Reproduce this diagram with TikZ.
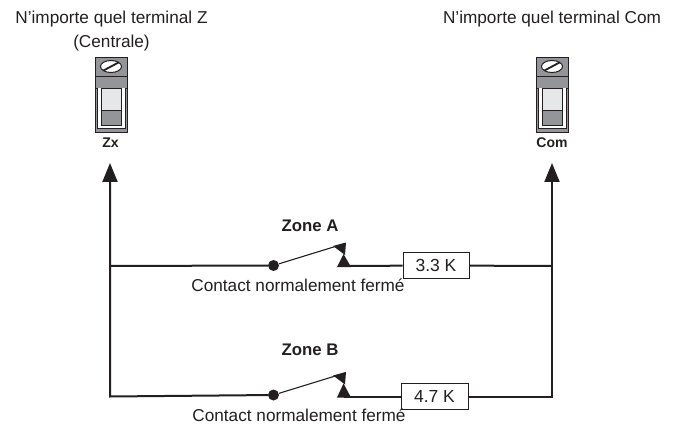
\documentclass[tikz,border=0pt]{standalone}
\usepackage{fontspec}
\setmainfont{Liberation Sans}
\usetikzlibrary{arrows.meta}
\definecolor{ink}{HTML}{231F20}
\definecolor{tgray}{HTML}{939598}
\definecolor{tlight}{HTML}{E6E7E8}
\tikzset{
 wire/.style={draw=ink,line width=2pt,line join=miter},
 arm/.style={draw=ink,line width=1.1pt},
 lbl/.style={font=\fontsize{17.2}{24.5}\selectfont,text=ink,inner sep=0pt,align=center},
 blbl/.style={font=\fontsize{16.8}{20}\selectfont\bfseries,text=ink,inner sep=0pt},
 term/.style={font=\fontsize{14}{16}\selectfont\bfseries,text=ink,inner sep=0pt},
 res/.style={draw=ink,line width=0.9pt,fill=white,minimum height=26pt,inner sep=0pt,font=\fontsize{17.5}{19}\selectfont,text=ink},
 dotn/.style={circle,fill=ink,minimum size=11pt,inner sep=0pt},
 arrowtip/.style={-{Triangle[length=19pt,width=15pt]}},
 terminal/.pic={
  \fill[tgray] (-16,-37.5) rectangle (16,37.5);
  \draw[ink,line width=0.6pt] (-16,-37.5) rectangle (16,37.5);
  \draw[ink,line width=0.6pt] (-16,-18.5) -- (16,-18.5);
  \draw[ink,line width=0.6pt] (-16,-6) -- (16,-6);
  \fill[white] (-14,-6) rectangle (14,34);
  \draw[ink,line width=0.7pt] (-14,-6) -- (-14,34) -- (14,34) -- (14,-6);
  \fill[tlight] (-10,-5) rectangle (10,16);
  \fill[tgray] (-10,16) rectangle (10,31);
  \draw[ink,line width=0.6pt] (-10,-6) rectangle (10,31) (-10,16) -- (10,16);
  \fill[white,draw=ink,line width=1pt] (0,-28) ellipse (10.5 and 6);
  \draw[ink,line width=1.8pt] (-7.5,-24) -- (7.5,-32);
 }
}
\begin{document}
\begin{tikzpicture}[x=1pt,y=-1pt]
\useasboundingbox (0,0) rectangle (675,425);
\node[lbl] (tl) at (111.5,31) {N’importe quel terminal Z\\(Centrale)};
\node[lbl] (tr) at (552,19) {N’importe quel terminal Com};
\path (111,94.5) pic {terminal};
\path (552,94.5) pic {terminal};
\node[term] (zx) at (110.5,143) {Zx};
\node[term] (com) at (552,143) {Com};
\coordinate (ltop) at (110,163);
\coordinate (rtop) at (552,163);
\coordinate (lA) at (110,266);
\coordinate (rA) at (552,266);
\coordinate (lB) at (110,396.5);
\coordinate (rB) at (552,396.5);
% zone A
\node[dotn] (dA) at (273.5,265.5) {};
\node[res,minimum width=66pt] (rsA) at (436,265.5) {3.3 K};
\coordinate (swA) at (344,266);
\draw[wire] (lA) -- (dA);
\draw[wire] (swA) -- (rsA);
\draw[wire] (rsA) -- (rA);
\draw[arm] (dA) -- (345,243.5);
\fill[ink] (333,246) -- (346,242.5) -- (345,255) -- cycle;
\fill[ink] (343.5,254) -- (337,267) -- (351,267) -- cycle;
\node[blbl] (za) at (310,226) {Zone A};
\node[lbl] (ca) at (298,285) {Contact normalement fermé};
% zone B
\node[dotn] (dB) at (273.5,395) {};
\node[res,minimum width=67pt] (rsB) at (434.5,396.5) {4.7 K};
\coordinate (swB) at (344,396.5);
\draw[wire] (swB) -- (rsB);
\draw[arm] (dB) -- (345,373);
\fill[ink] (333,375.5) -- (346,372) -- (345,384.5) -- cycle;
\fill[ink] (343.5,383.5) -- (337,397.5) -- (351,397.5) -- cycle;
\node[blbl] (zb) at (310,350) {Zone B};
\node[lbl] (cb) at (299,415.5) {Contact normalement fermé};
% rails
\draw[wire,arrowtip] (rsB) -- (rB) -- (rtop);
\draw[wire,arrowtip] (dB) -- (lB) -- (ltop);
\end{tikzpicture}
\end{document}
